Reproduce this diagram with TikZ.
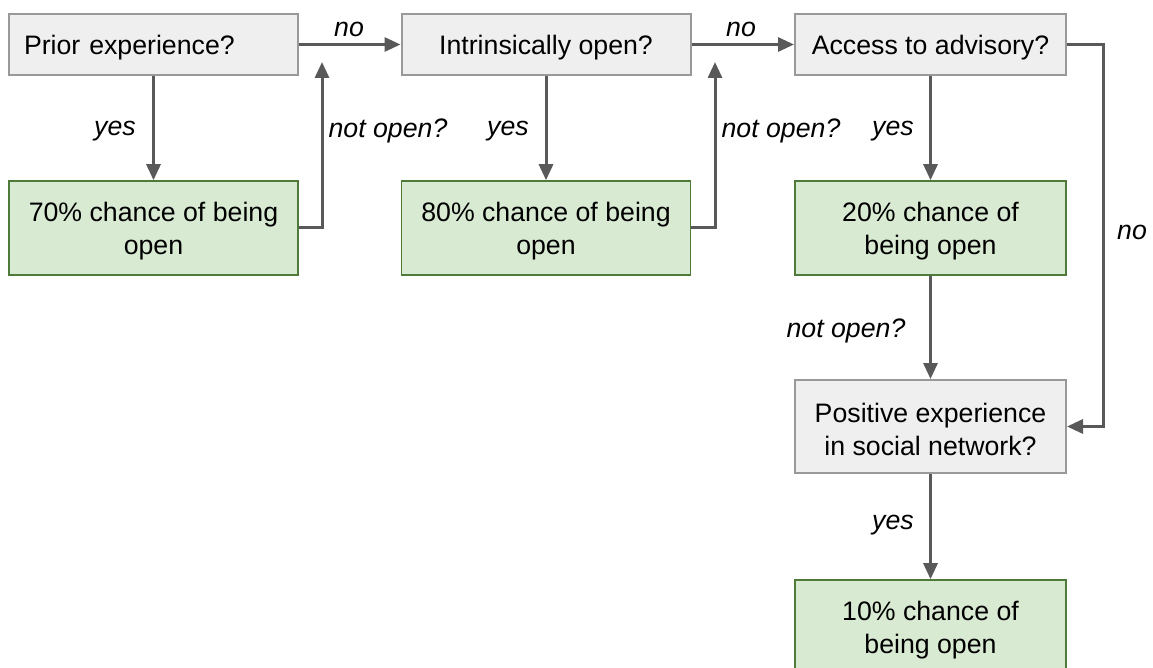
\documentclass[tikz,border=0pt]{standalone}
\usepackage{fontspec}
\setmainfont{Liberation Sans}
\usetikzlibrary{arrows.meta}
\definecolor{qfill}{HTML}{EFEFEF}
\definecolor{qline}{HTML}{999999}
\definecolor{gfill}{HTML}{D9EAD3}
\definecolor{gline}{HTML}{4E7A3A}
\definecolor{arr}{HTML}{595959}
\newcommand{\chartsize}{\fontsize{26.7}{33}\selectfont}
\tikzset{
  onetext/.style={execute at begin node={\rule{0pt}{26pt}}},
  twotext/.style={execute at begin node={\rule{0pt}{58pt}}},
  qbox/.style={draw=qline, fill=qfill, line width=2pt, minimum width=289pt, minimum height=61pt, align=center, inner sep=0pt},
  gbox/.style={draw=gline, fill=gfill, line width=1.6pt, minimum width=289pt, minimum height=94pt, align=center, inner sep=0pt, twotext},
  flow/.style={draw=arr, line width=3pt, -{Triangle[width=14pt,length=16pt]}},
  lbl/.style={font=\chartsize\itshape}
}
\begin{document}
\begin{tikzpicture}[x=1pt,y=-1pt,font=\chartsize]
\clip (0,0) rectangle (1153,668);
\fill[white] (0,0) rectangle (1153,668);
% question boxes
\node[qbox, onetext, text width=259pt, align=left] (prior) at (153.5,44.5) {Prior experience?};
\node[qbox, onetext] (intr) at (546,44.5) {Intrinsically open?};
\node[qbox, onetext, minimum width=271pt] (adv) at (930.5,44.5) {Access to advisory?};
\node[qbox, twotext, minimum width=271pt, minimum height=93pt] (soc) at (930.5,426.5) {Positive experience\\in social network?};
% outcome boxes
\node[gbox] (p70) at (153.5,228) {70\% chance of being\\open};
\node[gbox] (p80) at (546,228) {80\% chance of being\\open};
\node[gbox, minimum width=271pt] (p20) at (930.5,228) {20\% chance of\\being open};
\node[gbox, minimum width=271pt] (p10) at (930.5,627) {10\% chance of\\being open};
% turning points
\coordinate (t1) at (322,62);
\coordinate (t2) at (715,62);
% connectors
\draw[flow] (prior) -- (intr);
\draw[flow] (intr) -- (adv);
\draw[flow] (prior.south) -- (p70.north);
\draw[flow] (intr.south) -- (p80.north);
\draw[flow] (adv.south) -- (p20.north);
\draw[flow] (p20.south) -- (soc.north);
\draw[flow] (soc.south) -- (p10.north);
\draw[flow] (p70.east) -| (t1);
\draw[flow] (p80.east) -| (t2);
\draw[flow] (adv.east) -- ++(36,0) |- (soc.east);
% labels
\node[lbl] (n1) at (349,29) {no};
\node[lbl] (n2) at (741,29) {no};
\node[lbl] (n3) at (1132,232) {no};
\node[lbl] (y1) at (115,131) {yes};
\node[lbl] (y2) at (508,131) {yes};
\node[lbl] (y3) at (893,131) {yes};
\node[lbl] (y4) at (893,525) {yes};
\node[lbl] (o1) at (388,131) {not open?};
\node[lbl] (o2) at (781,131) {not open?};
\node[lbl] (o3) at (846,331) {not open?};
\end{tikzpicture}
\end{document}
